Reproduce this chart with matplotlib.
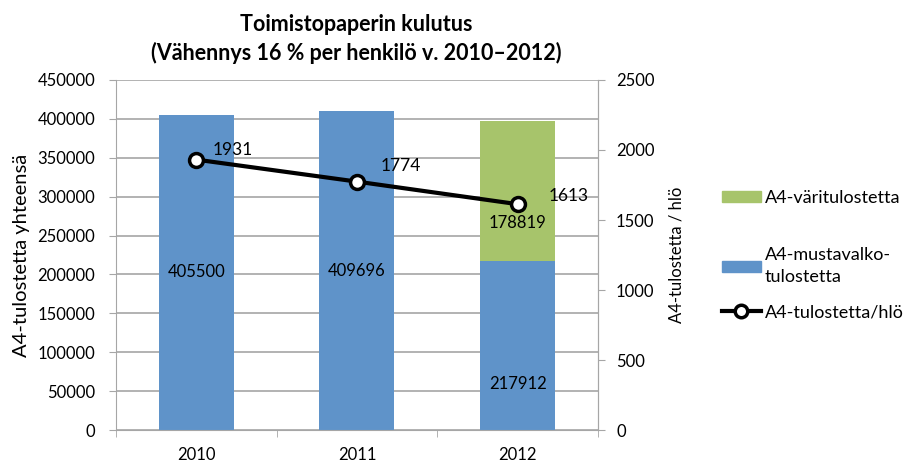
import matplotlib
matplotlib.use('Agg')
import matplotlib.pyplot as plt
from matplotlib.patches import Patch
from matplotlib.lines import Line2D

plt.rcParams['font.family'] = ['Lato', 'DejaVu Sans']

years = ['2010', '2011', '2012']
mustavalko = [405500, 409696, 217912]
vari = [0, 0, 178819]
per_hlo = [1931, 1774, 1613]

blue = '#5f93c9'
green = '#a7c46b'
grid_c = '#a6a6a6'

fig = plt.figure(figsize=(9.06, 4.62), dpi=100)
ax = fig.add_axes([0.128, 0.069, 0.532, 0.758])
ax2 = ax.twinx()

x = list(range(len(years)))
w = 0.467
ax.bar(x, mustavalko, w, color=blue, zorder=2)
ax.bar(x, vari, w, bottom=mustavalko, color=green, zorder=2)

# value labels of bars
ax.text(x[0], mustavalko[0] * 0.5, str(mustavalko[0]), ha='center', va='center', fontsize=12)
ax.text(x[1], mustavalko[1] * 0.5, str(mustavalko[1]), ha='center', va='center', fontsize=12)
ax.text(x[2], mustavalko[2] * 0.27, str(mustavalko[2]), ha='center', va='center', fontsize=12)
ax.text(x[2], mustavalko[2] + vari[2] * 0.27, str(vari[2]), ha='center', va='center', fontsize=12)

ax.set_xlim(-0.5, 2.5)
ax.set_ylim(0, 450000)
ax.set_yticks(range(0, 450001, 50000))
ax.set_xticks(x)
ax.set_xticklabels(years)
ax.set_xticks([-0.5, 0.5, 1.5, 2.5], minor=True)
ax.tick_params(axis='x', which='major', length=0, pad=12, labelsize=12)
ax.tick_params(axis='x', which='minor', length=5, color=grid_c, direction='out')
ax.tick_params(axis='y', length=5, color=grid_c, labelsize=12, pad=10)
ax.grid(axis='y', color=grid_c, lw=1.2, zorder=0)
ax.set_axisbelow(True)
ax.spines['top'].set_visible(False)
for s in ['left', 'bottom', 'right']:
    ax.spines[s].set_color(grid_c)
ax.set_ylabel('A4-tulostetta yhteensä', fontsize=14.5, labelpad=5)

ax2.plot(x, per_hlo, color='black', lw=3, marker='o', ms=10,
         mfc='white', mec='black', mew=2.5, zorder=5)
offs = [(12, 7), (17, 11), (22, 6)]
for xi, v, o in zip(x, per_hlo, offs):
    ax2.annotate(str(v), (xi, v), xytext=o, textcoords='offset points',
                 fontsize=12.5, ha='left', va='center')
ax2.set_ylim(0, 2500)
ax2.set_yticks(range(0, 2501, 500))
ax2.tick_params(axis='y', length=5, color=grid_c, labelsize=12, pad=8)
for s in ['top', 'left', 'bottom']:
    ax2.spines[s].set_visible(False)
ax2.spines['right'].set_color(grid_c)
ax2.set_ylabel('A4-tulostetta / hlö', fontsize=12, labelpad=10)

fig.suptitle('Toimistopaperin kulutus\n(Vähennys 16 % per henkilö v. 2010–2012)',
             x=0.393, y=0.97, fontsize=15.5, fontweight='bold', linespacing=1.4)

leg_kw = dict(loc='center left', frameon=False, fontsize=13, handlelength=2.15,
              handleheight=0.55, handletextpad=0.2, borderpad=0, borderaxespad=0)
l1 = fig.legend([Patch(color=green)], ['A4-väritulostetta'],
                bbox_to_anchor=(0.797, 1 - 198 / 462), **leg_kw)
l2 = fig.legend([Patch(color=blue)], ['A4-mustavalko-\ntulostetta'],
                bbox_to_anchor=(0.797, 1 - 266 / 462), **leg_kw)
for t in l2.get_texts():
    t.set_linespacing(1.5)
l3 = fig.legend([Line2D([], [], color='black', lw=3, marker='o', ms=9,
                        mfc='white', mec='black', mew=2.5)], ['A4-tulostetta/hlö'],
                bbox_to_anchor=(0.797, 1 - 312 / 462), **leg_kw)

fig.savefig('out.png', dpi=100)
